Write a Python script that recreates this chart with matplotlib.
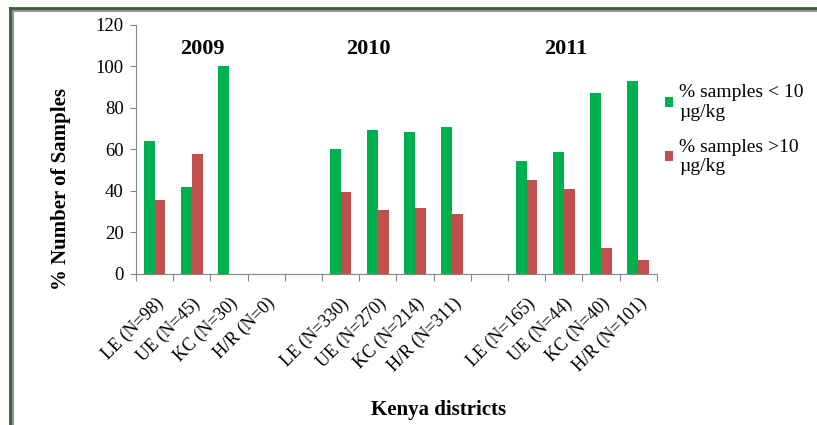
import numpy as np
import matplotlib.pyplot as plt
from matplotlib.lines import Line2D

plt.rcParams['font.family'] = ['Liberation Serif', 'DejaVu Serif']

# DATA
districts = ['LE (N=98)', 'UE (N=45)', 'KC (N=30)', 'H/R (N=0)', '',
             'LE (N=330)', 'UE (N=270)', 'KC (N=214)', 'H/R (N=311)', '',
             'LE (N=165)', 'UE (N=44)', 'KC (N=40)', 'H/R (N=101)']
below_10 = [64.3, 42.1, 100, 0, 0,
            60.3, 69.2, 68.3, 70.9, 0,
            54.6, 59.0, 87.4, 93.2]
above_10 = [35.7, 57.9, 0, 0, 0,
            39.7, 30.8, 31.7, 29.1, 0,
            45.4, 41.0, 12.6, 6.8]
years = ['2009', '2010', '2011']
year_x = [1.29, 5.74, 11.04]

green = '#00B050'
red = '#C0504D'

fig = plt.figure(figsize=(8.17, 4.25), dpi=100)
ax = fig.add_axes([0.1665, 0.3553, 0.6375, 0.5859])

x = np.arange(len(districts))
w = 0.29
ax.bar(x - w/2, below_10, w, color=green, label='% samples < 10\nµg/kg')
ax.bar(x + w/2, above_10, w, color=red, label='% samples >10\nµg/kg')

ax.set_xlim(-0.5, len(districts) - 0.5)
ax.set_ylim(0, 120)
ax.set_yticks(range(0, 121, 20))
ax.tick_params(axis='y', labelsize=13.5, length=4, color='#868686', pad=5)
ax.set_xticks(np.arange(-0.5, len(districts), 1))
ax.set_xticklabels([])
ax.set_xticks(x, minor=True)
ax.set_xticklabels(districts, minor=True, rotation=45, ha='right',
                   rotation_mode='anchor', fontsize=13)
ax.tick_params(axis='x', which='major', length=5, color='#868686')
ax.tick_params(axis='x', which='minor', length=0, pad=15)

for s in ['top', 'right']:
    ax.spines[s].set_visible(False)
for s in ['left', 'bottom']:
    ax.spines[s].set_color('#868686')

for yr, xp in zip(years, year_x):
    ax.text(xp, 108.4, yr, ha='center', va='center', fontsize=16, fontweight='bold')

ax.set_ylabel('% Number of Samples', fontsize=15, fontweight='bold')
ax.yaxis.set_label_coords(-0.125, 0.34)
fig.text(0.537, 0.035, 'Kenya districts', ha='center', va='center',
         fontsize=15, fontweight='bold')

ax.legend(loc='upper left', bbox_to_anchor=(0.99, 0.816), frameon=False, fontsize=14,
          handlelength=0.42, handleheight=0.42, handletextpad=0.3, labelspacing=0.9,
          borderaxespad=0.3)

# frame around the figure
fig.add_artist(Line2D([12/817, 12/817], [0, 1 - 8/425], color='#909090', lw=2))
fig.add_artist(Line2D([12/817, 1], [1 - 10/425, 1 - 10/425], color='#909090', lw=2))
fig.add_artist(Line2D([10/817, 10/817], [0, 1 - 8/425], color='#3a5f3a', lw=2))
fig.add_artist(Line2D([10/817, 1], [1 - 8/425, 1 - 8/425], color='#3a5f3a', lw=2))

fig.savefig('out.png', dpi=100)
